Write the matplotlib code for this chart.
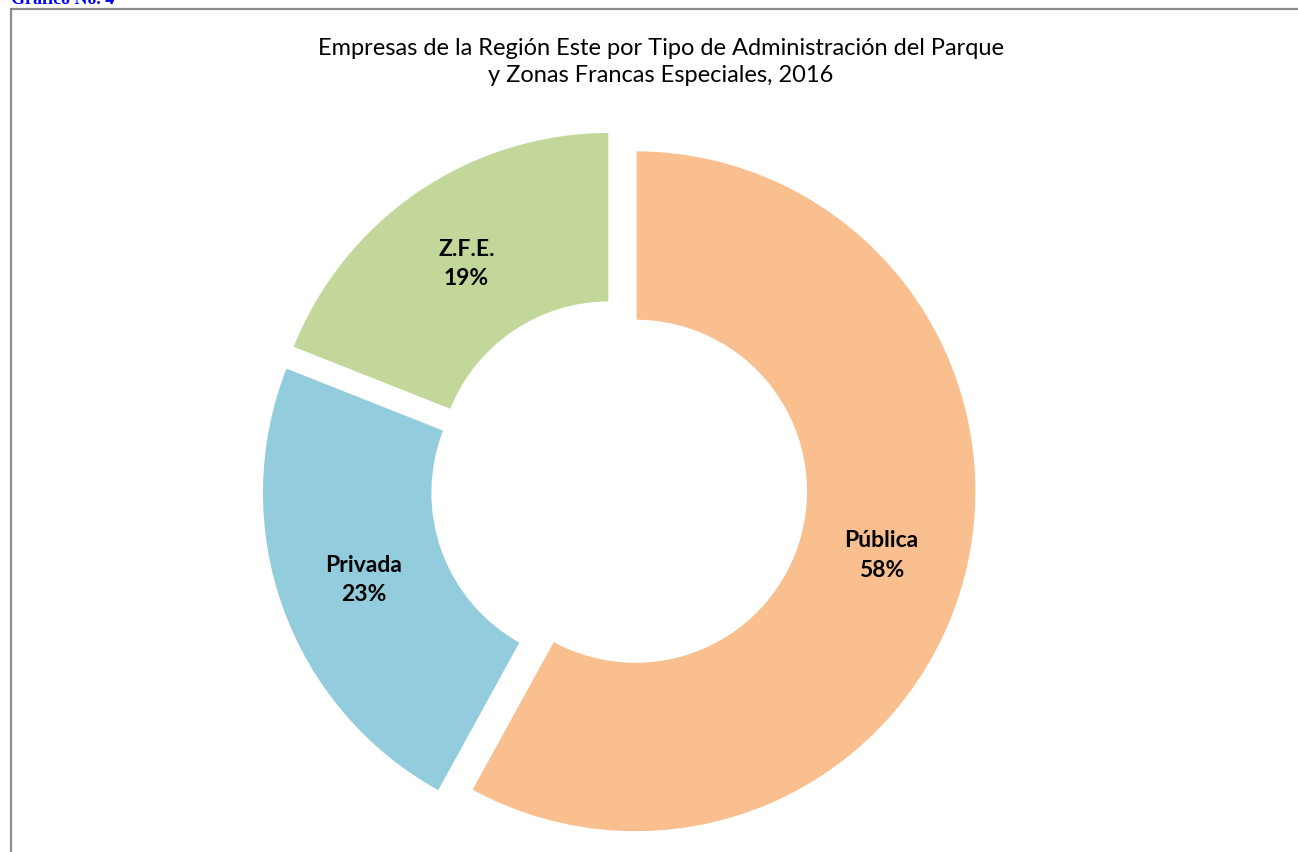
import matplotlib.pyplot as plt
from matplotlib.patches import Rectangle

# Données du graphique
categories = ["Pública", "Privada", "Z.F.E."]
pourcentages = [58, 23, 19]
couleurs = ["#F9BF8F", "#93CDDD", "#C4D79B"]

titre = ("Empresas de la Región Este por Tipo de Administración del Parque\n"
         "y Zonas Francas Especiales, 2016")

plt.rcParams["font.family"] = ["Lato", "DejaVu Sans"]

fig = plt.figure(figsize=(12.98, 8.53), dpi=100)

# Axe du donut (placé pour que le rayon fasse ~341 px)
ax = fig.add_axes([0.1616, -0.0518, 0.6305, 0.9594])

labels_iter = iter(categories)


def fmt_label(pct):
    return f"{next(labels_iter)}\n{pct:.0f}%"


wedges, textes, autotextes = ax.pie(
    pourcentages,
    colors=couleurs,
    startangle=90,
    counterclock=False,
    explode=[0.05] * len(pourcentages),
    autopct=fmt_label,
    pctdistance=0.745,
    wedgeprops=dict(width=0.5, edgecolor="white", linewidth=1.5),
)
for t in autotextes:
    t.set_fontsize(16.5)
    t.set_fontweight("bold")
    t.set_color("black")
    t.set_linespacing(1.5)

ax.set_xlim(-1.2, 1.2)
ax.set_ylim(-1.2, 1.2)
ax.set_aspect("equal")
ax.axis("off")

# Titre
fig.text(661 / 1298, 1 - 62 / 853, titre, ha="center", va="center",
         fontsize=17, linespacing=1.4)

# Cadre gris
fig.patches.append(Rectangle((11 / 1298, -0.05), 1.2, 1 - 10 / 853 + 0.05,
                             transform=fig.transFigure, fill=False,
                             edgecolor="#8C8C8C", linewidth=1.6))

# En-tête coupé en haut
fig.text(11 / 1298, 1 - 4 / 853, "Gráfico No. 4", ha="left", va="baseline",
         fontsize=13, fontweight="bold", color="#0000FF",
         family=["Liberation Serif", "DejaVu Serif"])

fig.savefig("out.png", dpi=100)
